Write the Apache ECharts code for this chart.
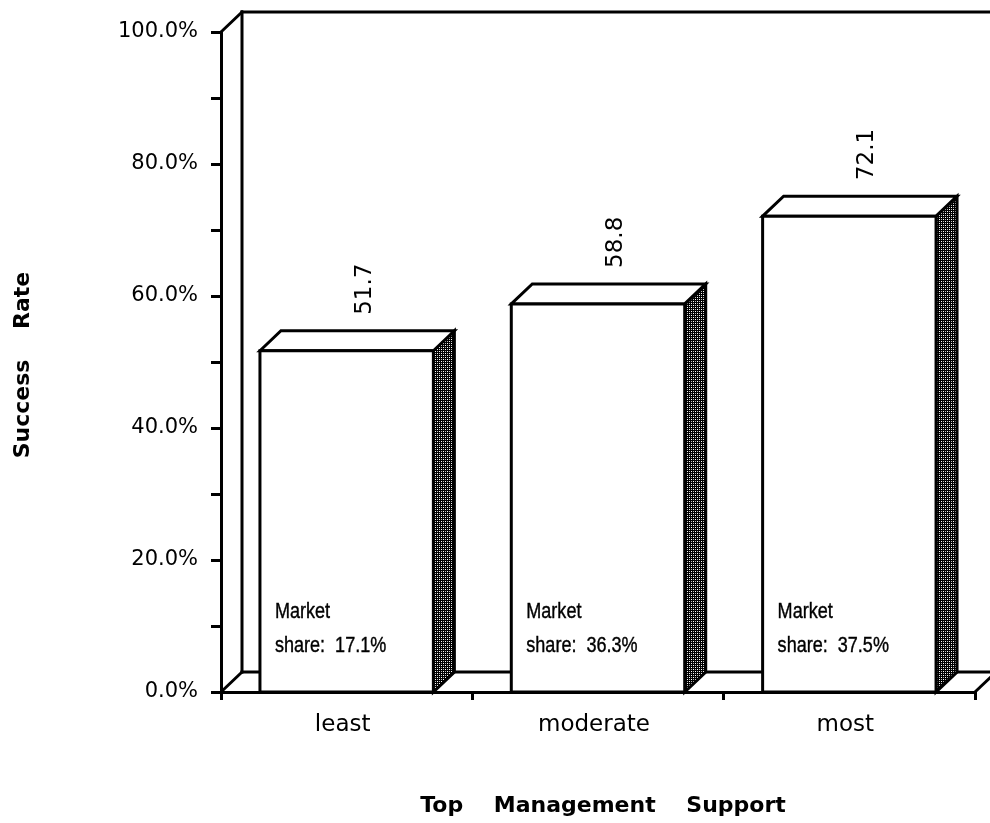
<!DOCTYPE html>
<html>
<head>
<meta charset="utf-8">
<script src="https://cdn.jsdelivr.net/npm/echarts@6/dist/echarts.min.js"></script>
<style>
  html, body { margin: 0; padding: 0; background: #fff; }
  #chart { width: 990px; height: 823px; }
</style>
</head>
<body>
<div id="chart"></div>
<script>
// Success rate by level of top management support, with market share per group
const categories = ['least', 'moderate', 'most'];
const successRate = [51.7, 58.8, 72.1];
const marketShare = [17.1, 36.3, 37.5];

const DX = 21;   // horizontal depth of the 3D boxes
const DY = 20;   // vertical depth of the 3D boxes
const LW = 3;    // outline width

// Dark dotted fill for the shaded side faces
function dotPattern() {
  const c = document.createElement('canvas');
  c.width = 4; c.height = 4;
  const g = c.getContext('2d');
  g.fillStyle = '#000'; g.fillRect(0, 0, 4, 4);
  g.fillStyle = '#fff';
  g.fillRect(1, 1, 1, 1); g.fillRect(3, 3, 1, 1);
  g.fillStyle = '#bbb';
  g.fillRect(3, 1, 1, 1); g.fillRect(1, 3, 1, 1);
  return c;
}
const sidePattern = { image: dotPattern(), repeat: 'repeat' };

const lineStyle = { stroke: '#000', lineWidth: LW, lineCap: 'square' };
function seg(x1, y1, x2, y2) {
  return { type: 'line', shape: { x1, y1, x2, y2 }, style: lineStyle };
}

// Back wall and floor of the plot box
function renderFrame(params, api) {
  const cs = params.coordSys;
  const x0 = cs.x, y0 = cs.y, x1 = cs.x + cs.width, y1 = cs.y + cs.height;
  const bx = x0 + DX, by = y1 - DY, ty = y0 - DY;
  return {
    type: 'group',
    children: [
      seg(x0, y0, bx, ty),
      seg(bx, ty, bx, by),
      seg(bx, ty, 1010, ty),
      seg(x0, y1, bx, by),
      seg(bx, by, 1010, by),
      seg(x1, y1, x1 + DX, by)
    ]
  };
}

const labelFont = '23px "DejaVu Sans", sans-serif';
// narrow face: Liberation Sans squeezed horizontally
const noteFont = '22px "Liberation Sans", Arial, sans-serif';
const NOTE_SQUEEZE = 0.82;
const noteStyle = { fill: '#000', stroke: '#000', lineWidth: 0.4, font: noteFont, align: 'left', verticalAlign: 'middle' };

// One 3D box per category
function renderBar(params, api) {
  const i = api.value(0), v = api.value(1), ms = api.value(2);
  const top = api.coord([i, v]);
  const base = api.coord([i, 0]);
  const w = api.size([1, 0])[0] * 0.69;
  const l = top[0] - w / 2, r = top[0] + w / 2;
  const t = top[1], b = base[1];
  const st = { stroke: '#000', lineWidth: LW, lineJoin: 'miter' };
  return {
    type: 'group',
    children: [
      { type: 'polygon', shape: { points: [[r, b], [r, t], [r + DX, t - DY], [r + DX, b - DY]] },
        style: Object.assign({ fill: sidePattern }, st) },
      { type: 'polygon', shape: { points: [[l, t], [l + DX, t - DY], [r + DX, t - DY], [r, t]] },
        style: Object.assign({ fill: '#fff' }, st) },
      { type: 'rect', shape: { x: l, y: t, width: w, height: b - t },
        style: Object.assign({ fill: '#fff' }, st) },
      { type: 'text', x: top[0] + 18, y: t - DY - 16, rotation: Math.PI / 2,
        style: { text: v.toFixed(1), fill: '#000', font: labelFont, align: 'left', verticalAlign: 'middle' } },
      { type: 'text', x: l + 15, y: b - 80, scaleX: NOTE_SQUEEZE,
        style: Object.assign({ text: 'Market' }, noteStyle) },
      { type: 'text', x: l + 15, y: b - 46, scaleX: NOTE_SQUEEZE,
        style: Object.assign({ text: 'share:  ' + ms.toFixed(1) + '%' }, noteStyle) }
    ]
  };
}

const chart = echarts.init(document.getElementById('chart'), null, { renderer: 'canvas' });

chart.setOption({
  animation: false,
  backgroundColor: '#fff',
  grid: { left: 221, right: 15, top: 32, bottom: 131, containLabel: false },
  xAxis: {
    type: 'category',
    data: categories,
    boundaryGap: true,
    axisLine: { show: true, lineStyle: { color: '#000', width: LW } },
    axisTick: { show: true, length: 8, lineStyle: { color: '#000', width: LW } },
    axisLabel: { margin: 22, fontSize: 23, color: '#000', fontFamily: 'DejaVu Sans', padding: [0, 8, 0, 0] },
    splitLine: { show: false }
  },
  yAxis: {
    type: 'value',
    min: 0,
    max: 100,
    interval: 20,
    axisLine: { show: true, lineStyle: { color: '#000', width: LW } },
    axisTick: { show: true, length: 10, lineStyle: { color: '#000', width: LW } },
    minorTick: { show: true, splitNumber: 2, length: 10, lineStyle: { color: '#000', width: LW } },
    splitLine: { show: false },
    axisLabel: {
      formatter: v => v.toFixed(1) + '%',
      margin: 23, fontSize: 21, color: '#000', fontFamily: 'DejaVu Sans'
    }
  },
  graphic: [
    { type: 'text', x: 23, y: 365, rotation: Math.PI / 2,
      style: { text: 'Success    Rate', fill: '#000', font: 'bold 22px "DejaVu Sans", sans-serif', align: 'center', verticalAlign: 'middle' } },
    { type: 'text', x: 603, y: 806,
      style: { text: 'Top    Management    Support', fill: '#000', font: 'bold 22px "DejaVu Sans", sans-serif', align: 'center', verticalAlign: 'middle' } }
  ],
  series: [
    {
      type: 'custom',
      name: 'frame',
      renderItem: renderFrame,
      data: [[0, 0]],
      clip: false,
      silent: true,
      z: 1
    },
    {
      type: 'custom',
      name: 'Success Rate',
      renderItem: renderBar,
      encode: { x: 0, y: 1 },
      data: categories.map((c, i) => [i, successRate[i], marketShare[i]]),
      clip: false,
      z: 2
    }
  ]
});
</script>
</body>
</html>
